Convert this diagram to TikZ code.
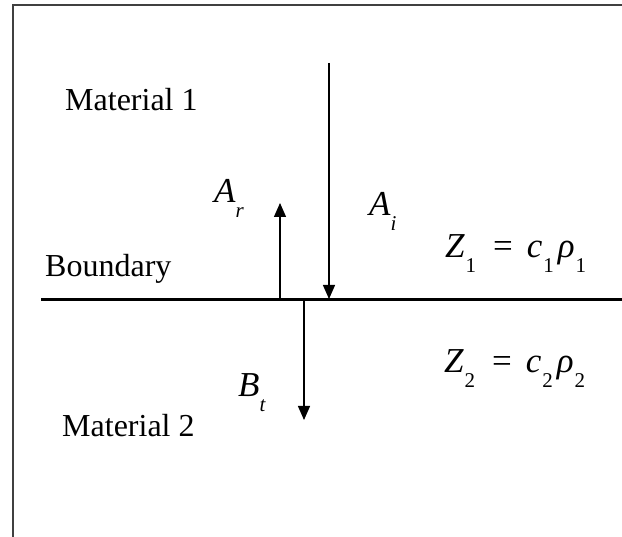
\documentclass[tikz,border=0pt]{standalone}
\usepackage{fontspec}
\setmainfont{Liberation Serif}
\usetikzlibrary{arrows.meta}
\newcommand{\lowsub}[1]{\raisebox{-0.42em}{\fontsize{21}{21}\selectfont #1}}
\begin{document}
\begin{tikzpicture}[x=1pt,y=-1pt,
  lbl/.style={font=\fontsize{32}{36}\selectfont, inner sep=0pt, anchor=base west},
  sym/.style={font=\fontsize{35}{38}\selectfont\itshape, inner sep=0pt, anchor=base west},
  wave/.style={line width=1.3pt, -{Triangle[length=14pt,width=12pt]}},
  framestyle/.style={line width=1.1pt, black!75},
  bndline/.style={line width=3pt}]
\useasboundingbox (0,0) rectangle (622,537);
% frame
\coordinate (fB) at (13,537);
\coordinate (fTL) at (13,5);
\coordinate (fTR) at (622,5);
\draw[framestyle] (fB) -- (fTL) -- (fTR);
% boundary
\coordinate (bL) at (41,300);
\coordinate (bR) at (622,300);
\draw[bndline] (bL) -- (bR);
% waves
\coordinate (itop) at (329,63);
\coordinate (ihit) at (329,299);
\coordinate (rbase) at (280,300);
\coordinate (rtip) at (280,203);
\coordinate (tbase) at (304,300);
\coordinate (ttip) at (304,420);
\draw[wave] (itop) -- (ihit);
\draw[wave] (rbase) -- (rtip);
\draw[wave] (tbase) -- (ttip);
% labels
\node[lbl] (mat1) at (65,111) {Material 1};
\node[lbl] (bndtext) at (45,277) {Boundary};
\node[lbl] (mat2) at (62,437) {Material 2};
\node[sym] (Ar) at (214,203) {A\lowsub{r}};
\node[sym] (Ai) at (369,216) {A\lowsub{i}};
\node[sym] (Bt) at (238,397) {B\lowsub{t}};
\node[sym] (Z1) at (445,258) {Z\hspace{1pt}\lowsub{\upshape 1}\hspace{17pt}{\upshape =}\hspace{14pt}c\hspace{1pt}\lowsub{\upshape 1}\hspace{4pt}ρ\hspace{1pt}\lowsub{\upshape 1}};
\node[sym] (Z2) at (444,373) {Z\hspace{1pt}\lowsub{\upshape 2}\hspace{17pt}{\upshape =}\hspace{14pt}c\hspace{1pt}\lowsub{\upshape 2}\hspace{4pt}ρ\hspace{1pt}\lowsub{\upshape 2}};
\end{tikzpicture}
\end{document}
